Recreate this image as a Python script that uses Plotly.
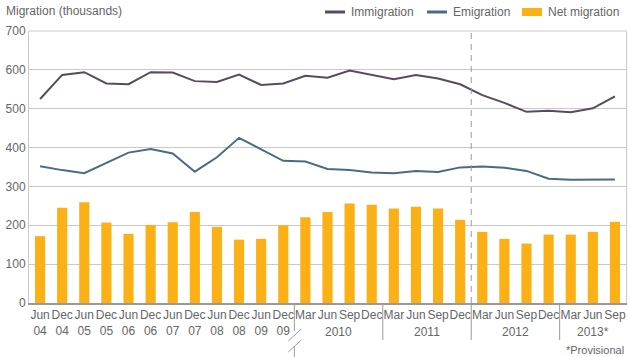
import plotly.graph_objects as go

# ---------------- data ----------------
periods = ["Jun 04", "Dec 04", "Jun 05", "Dec 05", "Jun 06", "Dec 06", "Jun 07", "Dec 07",
           "Jun 08", "Dec 08", "Jun 09", "Dec 09",
           "Mar 10", "Jun 10", "Sep 10", "Dec 10",
           "Mar 11", "Jun 11", "Sep 11", "Dec 11",
           "Mar 12", "Jun 12", "Sep 12", "Dec 12",
           "Mar 13", "Jun 13", "Sep 13"]
tick_labels = ["Jun<br>04", "Dec<br>04", "Jun<br>05", "Dec<br>05", "Jun<br>06", "Dec<br>06",
               "Jun<br>07", "Dec<br>07", "Jun<br>08", "Dec<br>08", "Jun<br>09", "Dec<br>09",
               "Mar", "Jun", "Sep", "Dec",
               "Mar", "Jun", "Sep", "Dec",
               "Mar", "Jun", "Sep", "Dec",
               "Mar", "Jun", "Sep"]
year_labels = ["2010", "2011", "2012", "2013*"]
year_first = ["Mar 10", "Mar 11", "Mar 12", "Mar 13"]
year_last = ["Dec 10", "Dec 11", "Dec 12", "Sep 13"]

immigration = [525, 587, 594, 565, 563, 594, 593, 571, 569, 588, 561, 565,
               585, 580, 598, 587, 576, 587, 578, 563, 535, 515, 492, 495, 491, 501, 532]
emigration = [352, 342, 334, 360, 387, 396, 385, 338, 375, 425, 395, 366,
              364, 345, 342, 336, 334, 340, 337, 349, 351, 348, 340, 320, 317, 318, 318]
net_migration = [172, 245, 259, 207, 178, 201, 208, 234, 196, 163, 165, 200,
                 221, 234, 256, 253, 243, 248, 243, 214, 183, 165, 153, 176, 176, 183, 209]

# ---------------- styles ----------------
C_IMM = "#5a4a5e"
C_EMI = "#4b6b82"
C_NET = "#fbb116"
GRID = "#c9c9c9"
TXT = "#666666"
FONT = "Liberation Sans"

W, H = 630, 357
L, R, T, B = 29, 626, 31, 303
n = len(periods)


def px_x(px):
    return (px - L) / (R - L)


def px_y(py):
    return (B - py) / (B - T)


fig = go.Figure()
fig.add_trace(go.Bar(x=periods, y=net_migration, name="Net migration",
                     marker=dict(color=C_NET, line=dict(width=0)), width=0.46))
fig.add_trace(go.Scatter(x=periods, y=immigration, name="Immigration", mode="lines",
                         line=dict(color=C_IMM, width=2)))
fig.add_trace(go.Scatter(x=periods, y=emigration, name="Emigration", mode="lines",
                         line=dict(color=C_EMI, width=2)))

shapes = []
# dashed provisional divider (between Dec 11 and Mar 12)
xd = periods.index("Mar 12") / n
shapes.append(dict(type="line", xref="paper", yref="paper", x0=xd, x1=xd, y0=0, y1=1,
                   line=dict(color="#9a9a9a", width=1, dash="6px,5px")))
# year separators below the axis
for first in year_first:
    xs = periods.index(first) / n
    y1 = px_y(340)
    if first == "Mar 10":
        y1 = px_y(331)
        shapes.append(dict(type="line", xref="paper", yref="paper", x0=xs, x1=xs,
                           y0=px_y(346), y1=px_y(357), line=dict(color="#9a9a9a", width=1)))
        xc = xs * (R - L) + L
        for oy in (0, 11):
            shapes.append(dict(type="line", xref="paper", yref="paper",
                               x0=px_x(xc - 6), y0=px_y(341 + oy),
                               x1=px_x(xc + 7), y1=px_y(329 + oy),
                               line=dict(color="#9a9a9a", width=1)))
    shapes.append(dict(type="line", xref="paper", yref="paper", x0=xs, x1=xs,
                       y0=0, y1=y1, line=dict(color="#9a9a9a", width=1)))
# top border (700 line)
shapes.append(dict(type="line", xref="paper", yref="paper", x0=0, x1=1, y0=1, y1=1,
                   line=dict(color=GRID, width=1)))

annotations = []
for lab, f, l in zip(year_labels, year_first, year_last):
    xc = (periods.index(f) + periods.index(l)) / 2
    annotations.append(dict(x=xc, xref="x", y=px_y(332), yref="paper", text=lab,
                            showarrow=False, xanchor="center", yanchor="middle",
                            font=dict(family=FONT, size=12, color=TXT)))
annotations.append(dict(x=px_x(4), xref="paper", y=px_y(11), yref="paper",
                        text="Migration (thousands)", showarrow=False,
                        xanchor="left", yanchor="middle",
                        font=dict(family=FONT, size=12, color=TXT)))
annotations.append(dict(x=px_x(626), xref="paper", y=px_y(350), yref="paper",
                        text="*Provisional", showarrow=False,
                        xanchor="right", yanchor="middle",
                        font=dict(family=FONT, size=11, color=TXT)))

# custom legend
legend_items = [("Immigration", C_IMM, "line", 325), ("Emigration", C_EMI, "line", 427),
                ("Net migration", C_NET, "box", 522)]
ly = 12
for name, col, kind, x0 in legend_items:
    if kind == "line":
        shapes.append(dict(type="line", xref="paper", yref="paper",
                           x0=px_x(x0), x1=px_x(x0 + 20), y0=px_y(ly), y1=px_y(ly),
                           line=dict(color=col, width=3)))
    else:
        shapes.append(dict(type="rect", xref="paper", yref="paper",
                           x0=px_x(x0), x1=px_x(x0 + 20), y0=px_y(ly - 4), y1=px_y(ly + 4),
                           fillcolor=col, line=dict(width=0)))
    annotations.append(dict(x=px_x(x0 + 24), xref="paper", y=px_y(ly), yref="paper",
                            text=name, showarrow=False, xanchor="left", yanchor="middle",
                            font=dict(family=FONT, size=12, color=TXT)))

fig.update_layout(
    width=W, height=H,
    margin=dict(l=L, r=W - R, t=T, b=H - B, pad=0),
    paper_bgcolor="white", plot_bgcolor="white",
    showlegend=False,
    bargap=0.5,
    font=dict(family=FONT, size=12, color=TXT),
    shapes=shapes, annotations=annotations,
    xaxis=dict(type="category", categoryorder="array", categoryarray=periods,
               tickmode="array", tickvals=periods, ticktext=tick_labels,
               tickangle=0, ticks="", showgrid=False,
               showline=True, linecolor="#999999", linewidth=2,
               tickfont=dict(family=FONT, size=12, color=TXT),
               range=[-0.5, n - 0.5], fixedrange=True),
    yaxis=dict(range=[0, 700], dtick=100, tick0=0, showgrid=True, gridcolor=GRID,
               gridwidth=1, zeroline=False, showline=True, mirror=True,
               linecolor=GRID, linewidth=1, ticks="",
               tickfont=dict(family=FONT, size=12, color=TXT), fixedrange=True),
)

fig.write_html("out.html", config={"displayModeBar": False},
               post_script="document.body.style.margin='0';document.body.style.overflow='hidden';")
